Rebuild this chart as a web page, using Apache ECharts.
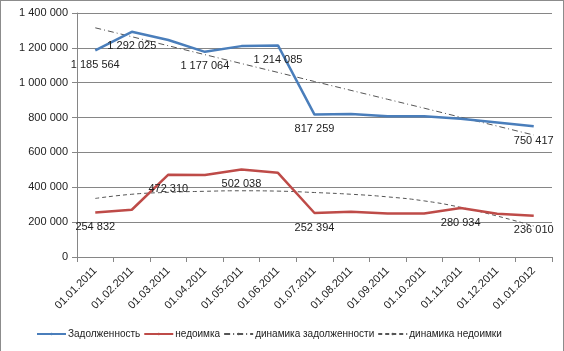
<!DOCTYPE html>
<html>
<head>
<meta charset="utf-8">
<script src="https://cdn.jsdelivr.net/npm/echarts@6/dist/echarts.min.js"></script>
<style>
  html, body { margin: 0; padding: 0; background: #fff; }
  #chart { width: 564px; height: 351px; box-sizing: border-box; border: 1px solid #8c8c8c; border-bottom: none; }
</style>
</head>
<body>
<div id="chart"></div>
<script>
// данные
const dates = ['01.01.2011', '01.02.2011', '01.03.2011', '01.04.2011', '01.05.2011', '01.06.2011',
  '01.07.2011', '01.08.2011', '01.09.2011', '01.10.2011', '01.11.2011', '01.12.2011', '01.01.2012'];
const debt = [1185564, 1292025, 1245000, 1177064, 1210000, 1214085, 817259, 820000, 808000, 807000, 793000, 772000, 750417];
const arrears = [254832, 271000, 472310, 470000, 502038, 483000, 252394, 259000, 250000, 250000, 280934, 248000, 236010];
const debtTrend = [1315000, 1264000, 1212000, 1161000, 1110000, 1059000, 1007000, 956000, 905000, 854000, 802000, 751000, 700000];
const arrearsTrend = [336000, 360000, 371000, 377000, 380000, 378000, 370000, 360000, 345000, 322000, 285000, 235000, 178000];
const debtLabelIdx = [0, 1, 3, 5, 6, 12];
const arrearsLabelIdx = [0, 2, 4, 6, 10, 12];

const font = 'Liberation Sans';
const fmt = v => String(v).replace(/\B(?=(\d{3})+(?!\d))/g, ' ');

// подписи только у некоторых точек (невидимый маркер нужен, чтобы подпись рисовалась)
function withLabels(values, idx) {
  return values.map((v, i) => idx.includes(i)
    ? { value: v, symbol: 'circle', symbolSize: 0, label: { show: true } }
    : v);
}

const lbl = {
  show: false,
  position: 'bottom',
  distance: 9,
  color: '#222',
  fontFamily: font,
  fontSize: 11,
  formatter: p => fmt(p.value)
};

const chart = echarts.init(document.getElementById('chart'));
chart.setOption({
  animation: false,
  grid: { left: 76, right: 11, top: 12, bottom: 94 },
  legend: {
    bottom: 7,
    left: 30,
    itemWidth: 29,
    itemHeight: 3,
    itemGap: 3,
    textStyle: { fontFamily: font, fontSize: 10, color: '#222', padding: [0, 0, 0, -3] },
    data: ['Задолженность', 'недоимка', 'динамика задолженности', 'динамика недоимки']
  },
  xAxis: {
    type: 'category',
    data: dates,
    boundaryGap: true,
    axisLine: { lineStyle: { color: '#868686' } },
    axisTick: { show: true, length: 5, lineStyle: { color: '#868686' } },
    axisLabel: { rotate: 45, fontFamily: font, fontSize: 11, color: '#222', margin: 12, interval: 0 }
  },
  yAxis: {
    type: 'value',
    min: 0,
    max: 1400000,
    interval: 200000,
    axisLine: { show: true, lineStyle: { color: '#868686' } },
    axisTick: { show: true, length: 5, lineStyle: { color: '#868686' } },
    splitLine: { lineStyle: { color: '#868686' } },
    axisLabel: { fontFamily: font, fontSize: 11, color: '#222', margin: 9, formatter: fmt }
  },
  series: [
    {
      name: 'Задолженность', type: 'line', symbol: 'none',
      data: withLabels(debt, debtLabelIdx),
      lineStyle: { color: '#4a7ebb', width: 2.5 },
      itemStyle: { color: '#4a7ebb' },
      label: lbl, z: 3
    },
    {
      name: 'недоимка', type: 'line', symbol: 'none',
      data: withLabels(arrears, arrearsLabelIdx),
      lineStyle: { color: '#be4b48', width: 2.5 },
      itemStyle: { color: '#be4b48' },
      label: lbl, z: 3
    },
    {
      name: 'динамика задолженности', type: 'line', symbol: 'none',
      data: debtTrend,
      lineStyle: { color: '#555', width: 1, type: [6, 3, 1, 3] },
      itemStyle: { color: '#555' }, z: 2
    },
    {
      name: 'динамика недоимки', type: 'line', symbol: 'none', smooth: true,
      data: arrearsTrend,
      lineStyle: { color: '#555', width: 1, type: [4, 3] },
      itemStyle: { color: '#555' }, z: 2
    }
  ]
});
</script>
</body>
</html>
